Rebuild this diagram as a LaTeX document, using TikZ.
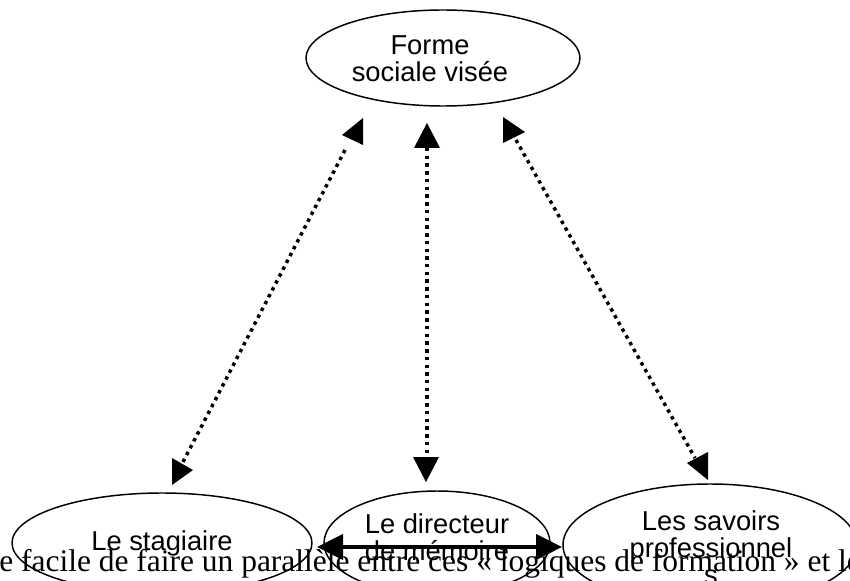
\documentclass[tikz,border=0pt]{standalone}
\usepackage{fontspec}
\setmainfont{Liberation Serif}
\newfontfamily\labelfont{Liberation Sans}
\usetikzlibrary{shapes.geometric,arrows.meta}
\begin{document}
\begin{tikzpicture}[x=0.75pt,y=-0.75pt,
  oval/.style={ellipse, draw, line width=1.1pt, inner sep=0pt},
  lbl/.style={inner sep=0pt, align=center, font=\labelfont\fontsize{20.5pt}{20.25pt}\selectfont},
  dotline/.style={line width=2.6pt, dash pattern=on 2.6pt off 3.2pt},
  head/.style={fill=black},
  solidarrow/.style={line width=2.3pt, {Triangle[length=19.5pt,width=19pt]}-{Triangle[length=19.5pt,width=19pt]}}
]
\useasboundingbox (0,0) rectangle (850,581);

% ellipses
\node[oval, minimum width=205.5pt, minimum height=72pt] (forme) at (443,58) {};
\node[oval, minimum width=225pt, minimum height=75pt] (stag) at (162,543) {};
\node[oval, minimum width=169.5pt, minimum height=78pt] (dir) at (437,543) {};
\node[oval, minimum width=220.5pt, minimum height=91.5pt] (sav) at (710,545) {};

% labels
\node[lbl] (formetxt) at (430,59) {Forme\\sociale visée};
\node[lbl, anchor=base] (stagtxt) at (162,550) {Le stagiaire};
\node[lbl] (dirtxt) at (437,537) {Le directeur\\de mémoire};
\node[lbl] (savtxt) at (711,548) {Les savoirs\\professionnel\\s};

% dotted connectors
\coordinate (l1a) at (345,150);
\coordinate (l1b) at (183,462);
\coordinate (l2a) at (427,148);
\coordinate (l2b) at (427,457);
\coordinate (l3a) at (516,140);
\coordinate (l3b) at (695,458);
\draw[dotline] (l1a) -- (l1b);
\draw[dotline] (l2a) -- (l2b);
\draw[dotline] (l3a) -- (l3b);

% arrowheads as drawn in the reference
\fill[head] (363,118) -- (363,145) -- (342,135) -- cycle;
\fill[head] (172,458) -- (172,485) -- (193,470) -- cycle;
\fill[head] (427,123) -- (414,148) -- (440,148) -- cycle;
\fill[head] (413,457) -- (439,457) -- (426,482) -- cycle;
\fill[head] (503,117) -- (503,143) -- (525,132) -- cycle;
\fill[head] (708,452) -- (708,480) -- (687,463) -- cycle;

% solid double arrow
\coordinate (hl) at (317,547);
\coordinate (hr) at (562,547);
\draw[solidarrow] (hl) -- (hr);

% overlapping body text
\node[anchor=base west, inner sep=0pt, font=\fontsize{23.6pt}{28pt}\selectfont] (body) at (-1,571) {e facile de faire un parallèle entre ces «~logiques de formation~» et le};
\end{tikzpicture}
\end{document}
